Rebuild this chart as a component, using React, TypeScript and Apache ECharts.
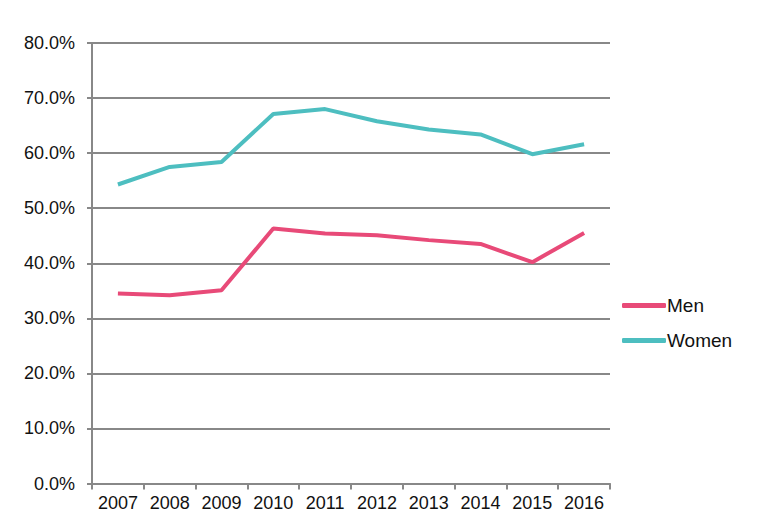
import React, { useEffect, useRef } from "react";
import * as echarts from "echarts";

const years = ["2007", "2008", "2009", "2010", "2011", "2012", "2013", "2014", "2015", "2016"];
const men = [34.5, 34.2, 35.1, 46.3, 45.4, 45.1, 44.2, 43.5, 40.2, 45.5];
const women = [54.3, 57.5, 58.4, 67.1, 68.0, 65.8, 64.3, 63.4, 59.8, 61.6];

export default function App() {
  const ref = useRef<HTMLDivElement>(null);
  useEffect(() => {
    if (!ref.current) return;
    const chart = echarts.init(ref.current, undefined, { renderer: "svg" });
    const font = "'Liberation Sans', Arial, sans-serif";
    chart.setOption({
      animation: false,
      backgroundColor: "#ffffff",
      textStyle: { fontFamily: font },
      grid: { left: 92, right: 150, top: 43, bottom: 43.5, containLabel: false },
      legend: {
        orient: "vertical",
        left: 617,
        top: 291,
        itemWidth: 44,
        itemHeight: 5,
        itemGap: 16,
        icon: "roundRect",
        textStyle: { fontSize: 19, color: "#111", fontFamily: font, padding: [0, 0, 0, -4] },
        data: ["Men", "Women"],
      },
      xAxis: {
        type: "category",
        data: years,
        boundaryGap: true,
        axisLine: { lineStyle: { color: "#888", width: 2 } },
        axisTick: { show: true, interval: 0, length: 6, lineStyle: { color: "#888", width: 2 } },
        axisLabel: { color: "#111", fontSize: 18, margin: 10, fontFamily: font, interval: 0, hideOverlap: false },
      },
      yAxis: {
        type: "value",
        min: 0,
        max: 80,
        interval: 10,
        axisLine: { show: true, lineStyle: { color: "#888", width: 2 } },
        axisTick: { show: true, length: 5, lineStyle: { color: "#888", width: 2 } },
        splitLine: { lineStyle: { color: "#888", width: 2 } },
        axisLabel: {
          color: "#111",
          fontSize: 18,
          margin: 17,
          fontFamily: font,
          formatter: (v: number) => v.toFixed(1) + "%",
        },
      },
      series: [
        {
          name: "Men",
          type: "line",
          data: men,
          symbol: "none",
          lineStyle: { color: "#E84A78", width: 4 },
          itemStyle: { color: "#E84A78" },
        },
        {
          name: "Women",
          type: "line",
          data: women,
          symbol: "none",
          lineStyle: { color: "#4DBEC0", width: 4 },
          itemStyle: { color: "#4DBEC0" },
        },
      ],
    });
    return () => chart.dispose();
  }, []);
  return (
    <div
      ref={ref}
      style={{ position: "fixed", left: 0, top: 0, width: 760, height: 527 }}
    />
  );
}
